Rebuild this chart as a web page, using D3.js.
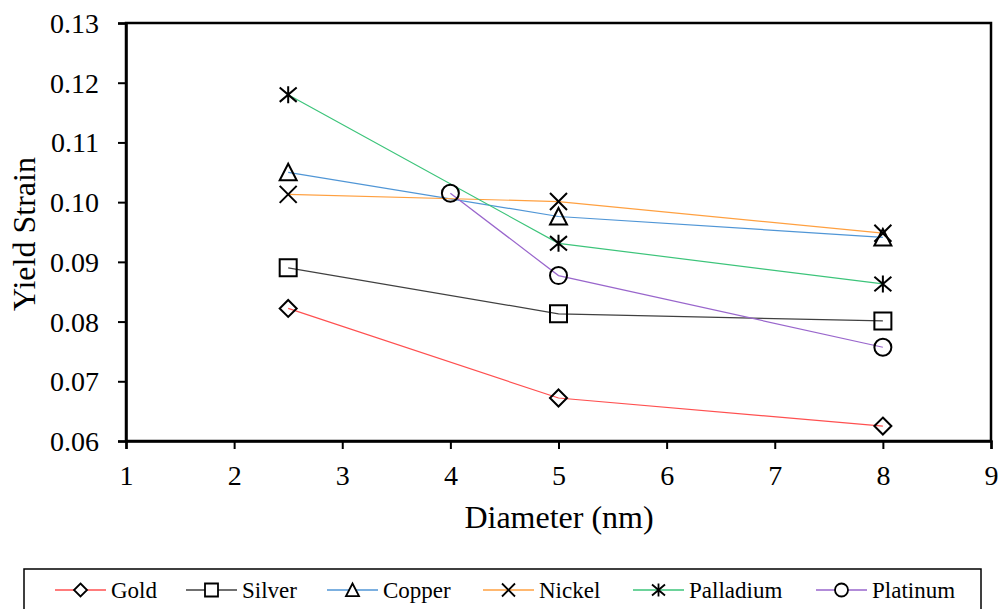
<!DOCTYPE html>
<html><head><meta charset="utf-8">
<script src="https://cdn.jsdelivr.net/npm/d3@7"></script>
<style>body{margin:0;background:#fff}svg{display:block}svg text{font-family:"Times New Roman","Liberation Serif",Times,serif !important;fill:#000}</style>
</head><body>
<svg id="c" width="1002" height="609"></svg>
<script>
const seriesNames = ["Gold","Silver","Copper","Nickel","Palladium","Platinum"];
const seriesColors = ["#ff5050","#404040","#5096d6","#ffa040","#3cc47a","#9966cc"];
const seriesMarkers = ["diamond","square","triangle","x","asterisk","circle"];
const xMain = [2.5, 5, 8];
const xPlatinum = [4, 5, 8];
const gold = [0.0822, 0.0672, 0.0625];
const silver = [0.0890, 0.0813, 0.0801];
const copper = [0.1050, 0.0976, 0.0941];
const nickel = [0.1013, 0.1001, 0.0948];
const palladium = [0.1180, 0.0931, 0.0863];
const platinum = [0.1015, 0.0877, 0.0757];
const xTicks = [1,2,3,4,5,6,7,8,9];
const yTicks = [0.06,0.07,0.08,0.09,0.10,0.11,0.12,0.13];

const seriesX = [xMain,xMain,xMain,xMain,xMain,xPlatinum];
const seriesY = [gold,silver,copper,nickel,palladium,platinum];

const FONT = '"Times New Roman","Liberation Serif",Times,serif';
const svg = d3.select("#c");
const L=126,R=991,T=23,B=441;
const x = d3.scaleLinear().domain([1,9]).range([L,R]);
const y = d3.scaleLinear().domain([0.06,0.13]).range([B,T]);

function markerPath(type, h){
  const p = d3.path();
  if(type==="diamond"){p.moveTo(0,-h);p.lineTo(h,0);p.lineTo(0,h);p.lineTo(-h,0);p.closePath();}
  else if(type==="square"){p.rect(-h,-h,2*h,2*h);}
  else if(type==="triangle"){p.moveTo(0,-h);p.lineTo(h,h*0.95);p.lineTo(-h,h*0.95);p.closePath();}
  else if(type==="x"){p.moveTo(-h,-h);p.lineTo(h,h);p.moveTo(h,-h);p.lineTo(-h,h);}
  else if(type==="asterisk"){p.moveTo(-h,-h*0.85);p.lineTo(h,h*0.85);p.moveTo(h,-h*0.85);p.lineTo(-h,h*0.85);p.moveTo(0,-h);p.lineTo(0,h);}
  else if(type==="circle"){p.arc(0,0,h,0,2*Math.PI);}
  return p.toString();
}

svg.append("rect").attr("x",L).attr("y",T).attr("width",R-L).attr("height",B-T)
  .attr("fill","none").attr("stroke","#000").attr("stroke-width",2.5);

const xAxis = svg.append("g").attr("transform",`translate(0,${B})`)
  .call(d3.axisBottom(x).tickValues(xTicks).tickSize(8).tickFormat(d3.format("d")));
const yAxis = svg.append("g").attr("transform",`translate(${L},0)`)
  .call(d3.axisLeft(y).tickValues(yTicks).tickSize(8).tickFormat(d3.format(".2f")));
[xAxis,yAxis].forEach(a=>{
  a.attr("font-family",FONT).attr("font-size",28);
  a.select(".domain").attr("stroke","#000").attr("stroke-width",2.5);
  a.selectAll(".tick line").attr("stroke","#000").attr("stroke-width",2);
  a.selectAll("text").style("font-family",FONT).attr("font-size",28).attr("fill","#000");
});
xAxis.selectAll("text").attr("dy",null).attr("y",44);
yAxis.selectAll("text").attr("x",-27).attr("dy","0.34em");

svg.append("text").attr("x",559).attr("y",528).attr("text-anchor","middle").style("font-family",FONT).attr("font-size",32).text("Diameter (nm)");
svg.append("text").attr("transform","translate(35,234) rotate(-90)").attr("text-anchor","middle").style("font-family",FONT).attr("font-size",32).text("Yield Strain");

const line = d3.line().x(d=>x(d[0])).y(d=>y(d[1]));
seriesNames.forEach((n,i)=>{
  const pts = seriesX[i].map((xv,j)=>[xv,seriesY[i][j]]);
  svg.append("path").datum(pts).attr("d",line).attr("fill","none")
    .attr("stroke",seriesColors[i]).attr("stroke-width",1.2);
});
seriesNames.forEach((n,i)=>{
  const pts = seriesX[i].map((xv,j)=>[xv,seriesY[i][j]]);
  svg.append("g").selectAll("path").data(pts).join("path")
    .attr("transform",d=>`translate(${x(d[0])},${y(d[1])})`)
    .attr("d",markerPath(seriesMarkers[i],8.5))
    .attr("fill","none").attr("stroke","#000").attr("stroke-width",2);
});

svg.append("rect").attr("x",24).attr("y",569).attr("width",957).attr("height",60)
  .attr("fill","none").attr("stroke","#000").attr("stroke-width",1.5);
const legX = [55,186,327,483,633,816];
seriesNames.forEach((n,i)=>{
  const g = svg.append("g").attr("transform",`translate(${legX[i]},590)`);
  g.append("line").attr("x1",0).attr("x2",51).attr("stroke",seriesColors[i]).attr("stroke-width",1.3);
  g.append("path").attr("transform","translate(25.5,0)").attr("d",markerPath(seriesMarkers[i],6.5))
    .attr("fill","#fff").attr("stroke","#000").attr("stroke-width",1.8);
  g.append("text").attr("x",56).attr("y",0).attr("dy","0.35em").style("font-family",FONT).attr("font-size",23).text(n);
});
</script>
</body></html>
